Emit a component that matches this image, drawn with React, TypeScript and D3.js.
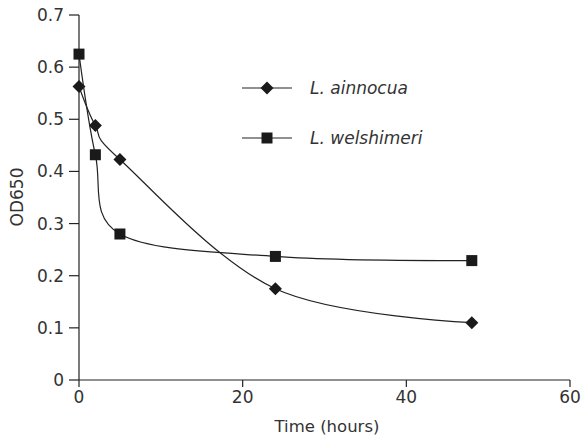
import * as d3 from 'd3'

// time points (hours) and OD650 readings
const hours = [0, 2, 5, 24, 48]
const ainnocua = [0.563, 0.488, 0.423, 0.175, 0.11]
const welshimeri = [0.625, 0.432, 0.28, 0.237, 0.229]
const xTicks = [0, 20, 40, 60]
const yTicks = [0, 0.1, 0.2, 0.3, 0.4, 0.5, 0.6, 0.7]
const seriesNames = ['L. ainnocua', 'L. welshimeri']

const width = 588
const height = 440
const margin = { top: 15, right: 18, bottom: 60, left: 79 }
const font = "'DejaVu Sans', Verdana, sans-serif"

type Pt = [number, number]

const Marker = ({ kind, x, y }: { kind: string; x: number; y: number }) =>
  kind === 'diamond' ? (
    <path d={`M${x},${y - 6.5}L${x + 6.5},${y}L${x},${y + 6.5}L${x - 6.5},${y}Z`} fill="#1a1a1a" />
  ) : (
    <rect x={x - 5.5} y={y - 5.5} width={11} height={11} fill="#1a1a1a" />
  )

const App = () => {
  const xScale = d3.scaleLinear().domain([0, 60]).range([margin.left, width - margin.right])
  const yScale = d3.scaleLinear().domain([0, 0.7]).range([height - margin.bottom, margin.top])

  const lineGen = d3
    .line<Pt>()
    .x(d => xScale(d[0]))
    .y(d => yScale(d[1]))
    .curve(d3.curveCatmullRom.alpha(0))

  const series = [
    { name: seriesNames[0], values: ainnocua, marker: 'diamond' },
    { name: seriesNames[1], values: welshimeri, marker: 'square' },
  ]

  const x0 = xScale(0)
  const y0 = yScale(0)

  return (
    <svg
      width={width}
      height={height}
      style={{ position: 'absolute', left: 0, top: 0, background: '#fff' }}
      fontFamily={font}
    >
      {/* axes */}
      <line x1={x0} x2={x0} y1={yScale(0.7)} y2={y0} stroke="#222" strokeWidth={1.2} />
      <line x1={x0} x2={xScale(60)} y1={y0} y2={y0} stroke="#222" strokeWidth={1.2} />
      {yTicks.map(t => (
        <g key={t}>
          <line x1={x0 - 10} x2={x0} y1={yScale(t)} y2={yScale(t)} stroke="#222" strokeWidth={1.2} />
          <text x={x0 - 15} y={yScale(t)} dy="0.35em" textAnchor="end" fontSize={17} fill="#333">
            {t === 0 ? '0' : t.toFixed(1)}
          </text>
        </g>
      ))}
      {xTicks.map(t => (
        <g key={t}>
          <line x1={xScale(t)} x2={xScale(t)} y1={y0} y2={y0 + 7} stroke="#222" strokeWidth={1.2} />
          <text x={xScale(t)} y={y0 + 23} textAnchor="middle" fontSize={17} fill="#333">
            {t}
          </text>
        </g>
      ))}
      <text x={327} y={432} textAnchor="middle" fontSize={16.5} fill="#333">
        Time (hours)
      </text>
      <text
        transform={`translate(23,${197}) rotate(-90)`}
        textAnchor="middle"
        fontSize={17}
        fill="#333"
      >
        OD650
      </text>

      {/* series */}
      {series.map(s => {
        const pts: Pt[] = hours.map((h, i) => [h, s.values[i]])
        return (
          <g key={s.name}>
            <path d={lineGen(pts) ?? ''} fill="none" stroke="#222" strokeWidth={1.2} />
            {pts.map((p, i) => (
              <Marker key={i} kind={s.marker} x={xScale(p[0])} y={yScale(p[1])} />
            ))}
          </g>
        )
      })}

      {/* legend */}
      {series.map((s, i) => {
        const ly = 88 + i * 50
        return (
          <g key={s.name}>
            <line x1={242} x2={292} y1={ly} y2={ly} stroke="#222" strokeWidth={1.2} />
            <Marker kind={s.marker} x={267} y={ly} />
            <text x={310} y={ly} dy="0.35em" fontSize={17} fontStyle="italic" fill="#333">
              {s.name}
            </text>
          </g>
        )
      })}
    </svg>
  )
}

export default App
